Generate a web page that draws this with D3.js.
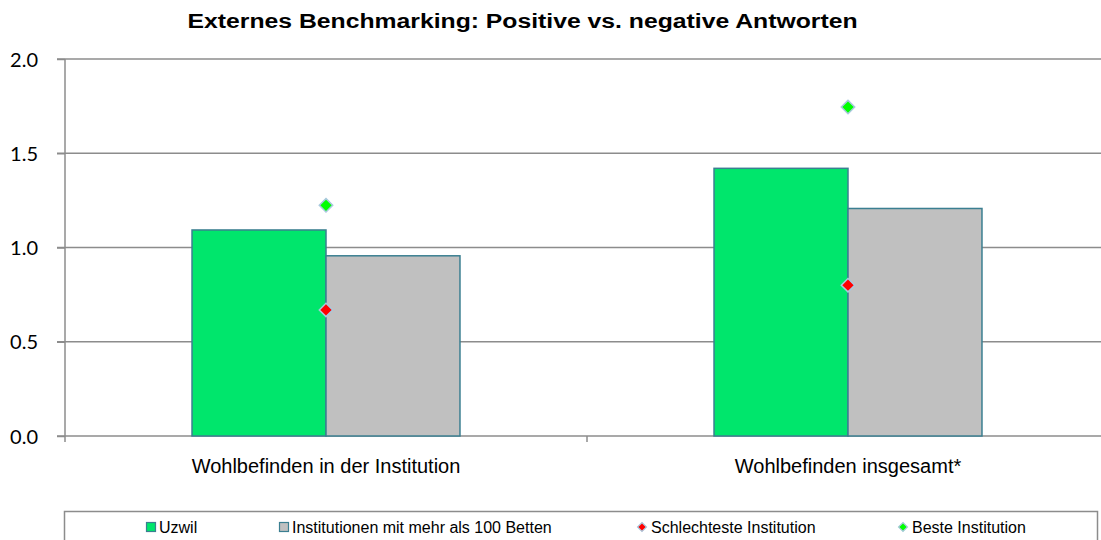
<!DOCTYPE html>
<html>
<head>
<meta charset="utf-8">
<script src="https://cdn.jsdelivr.net/npm/d3@7"></script>
<style>
  body { margin: 0; background: #fff; }
  svg { display: block; }
</style>
</head>
<body>
<svg id="chart" width="1101" height="540"></svg>
<script>
// chart data
let categories = ["Wohlbefinden in der Institution", "Wohlbefinden insgesamt*"];
let barSeries = ["Uzwil", "Institutionen mit mehr als 100 Betten"];
let uzwil = [1.093, 1.42];
let institutionen = [0.956, 1.207];
let schlechteste = [0.669, 0.80];
let beste = [1.224, 1.745];
let yTicks = [0.0, 0.5, 1.0, 1.5, 2.0];
let title = "Externes Benchmarking: Positive vs. negative Antworten";

let barColors = ["#00e66c", "#c0c0c0"];
let gridColor = "#8c8c8c";
let edgeColor = "#3b7f91";

let svg = d3.select("#chart");
let W = 1101;
let plotLeft = 65, plotRight = 1109, plotTop = 59, plotBottom = 436;

let x = d3.scaleBand()
  .domain(categories)
  .range([plotLeft, plotRight])
  .paddingInner(0)
  .paddingOuter(0);

let xInner = d3.scaleBand()
  .domain(barSeries)
  .range([0, x.bandwidth()])
  .paddingInner(0)
  .paddingOuter(0.948);

let y = d3.scaleLinear()
  .domain([0, 2])
  .range([plotBottom, plotTop]);

// title
svg.append("text")
  .attr("x", 522.5)
  .attr("y", 28)
  .attr("text-anchor", "middle")
  .attr("textLength", 670)
  .attr("lengthAdjust", "spacingAndGlyphs")
  .style("font-family", "'Liberation Sans', Arial, sans-serif")
  .style("font-weight", "bold")
  .style("font-size", "20px")
  .text(title);

// gridlines
svg.append("g").selectAll("line")
  .data(yTicks)
  .enter()
  .append("line")
  .attr("x1", plotLeft - 8)
  .attr("x2", W)
  .attr("y1", d => y(d))
  .attr("y2", d => y(d))
  .attr("stroke", gridColor)
  .attr("stroke-width", 1.5);

// y axis
let yAxis = svg.append("g")
  .attr("transform", "translate(" + plotLeft + ",0)")
  .call(d3.axisLeft(y)
    .tickValues(yTicks)
    .tickSize(8)
    .tickSizeOuter(0)
    .tickPadding(19)
    .tickFormat(d3.format(".1f")));
yAxis.select(".domain").remove();
yAxis.selectAll("line").attr("stroke", gridColor).attr("stroke-width", 1.5);
yAxis.selectAll("text")
  .attr("dy", "0.36em")
  .style("font-family", "Lato, 'Open Sans', sans-serif")
  .style("font-size", "20px")
  .style("fill", "#000");

svg.append("line")
  .attr("x1", plotLeft).attr("x2", plotLeft)
  .attr("y1", plotTop).attr("y2", plotBottom + 6)
  .attr("stroke", gridColor)
  .attr("stroke-width", 1.5);

// category ticks on the x axis
svg.append("g").selectAll("line")
  .data(categories.slice(1))
  .enter()
  .append("line")
  .attr("x1", d => x(d))
  .attr("x2", d => x(d))
  .attr("y1", plotBottom)
  .attr("y2", plotBottom + 6)
  .attr("stroke", gridColor)
  .attr("stroke-width", 1.5);

// bars
let barData = [uzwil, institutionen];
let groups = svg.append("g").selectAll("g")
  .data(categories)
  .enter()
  .append("g")
  .attr("transform", d => "translate(" + x(d) + ",0)");

groups.selectAll("rect")
  .data((c, ci) => barSeries.map((s, si) => ({s: s, si: si, v: barData[si][ci]})))
  .enter()
  .append("rect")
  .attr("x", d => xInner(d.s))
  .attr("y", d => y(d.v))
  .attr("width", xInner.bandwidth())
  .attr("height", d => y(0) - y(d.v))
  .attr("fill", d => barColors[d.si])
  .attr("stroke", edgeColor)
  .attr("stroke-width", 1.5);

// markers
let diamond = d3.symbol().type(d3.symbolSquare).size(90);
let markerSets = [
  {vals: schlechteste, color: "#ff0000"},
  {vals: beste, color: "#00ff00"}
];
markerSets.forEach(m => {
  svg.append("g").selectAll("path")
    .data(categories)
    .enter()
    .append("path")
    .attr("d", diamond)
    .attr("transform", (c, i) => "translate(" + (x(c) + x.bandwidth() / 2) + "," + y(m.vals[i]) + ") rotate(45)")
    .attr("fill", m.color)
    .attr("stroke", "#a9c9de")
    .attr("stroke-width", 1.5);
});

// category labels
svg.append("g").selectAll("text")
  .data(categories)
  .enter()
  .append("text")
  .attr("x", d => x(d) + x.bandwidth() / 2)
  .attr("y", 473)
  .attr("text-anchor", "middle")
  .style("font-family", "'Liberation Sans', Arial, sans-serif")
  .style("font-size", "20px")
  .text(d => d);

// legend
svg.append("rect")
  .attr("x", 64.5)
  .attr("y", 511.5)
  .attr("width", 1033)
  .attr("height", 40)
  .attr("fill", "none")
  .attr("stroke", gridColor)
  .attr("stroke-width", 1.5);

let legendItems = [
  {label: barSeries[0], kind: "rect", color: barColors[0], x: 146},
  {label: barSeries[1], kind: "rect", color: barColors[1], x: 279},
  {label: "Schlechteste Institution", kind: "diamond", color: "#ff0000", x: 637},
  {label: "Beste Institution", kind: "diamond", color: "#00ff00", x: 898}
];
let smallDiamond = d3.symbol().type(d3.symbolSquare).size(40);
let lg = svg.append("g").selectAll("g")
  .data(legendItems)
  .enter()
  .append("g")
  .attr("transform", d => "translate(" + d.x + ",522)");
lg.each(function(d) {
  let g = d3.select(this);
  if (d.kind === "rect") {
    g.append("rect")
      .attr("x", 0.5).attr("y", 0.5)
      .attr("width", 9).attr("height", 9)
      .attr("fill", d.color)
      .attr("stroke", edgeColor)
      .attr("stroke-width", 1.2);
    g.append("text").attr("x", 13).attr("y", 11).text(d.label);
  } else {
    g.append("path")
      .attr("d", smallDiamond)
      .attr("transform", "translate(5,5) rotate(45)")
      .attr("fill", d.color)
      .attr("stroke", "#a9c9de")
      .attr("stroke-width", 1.2);
    g.append("text").attr("x", 14).attr("y", 11).text(d.label);
  }
});
lg.selectAll("text")
  .style("font-family", "'Liberation Sans', Arial, sans-serif")
  .style("font-size", "16px")
  .style("fill", "#000");
</script>
</body>
</html>
